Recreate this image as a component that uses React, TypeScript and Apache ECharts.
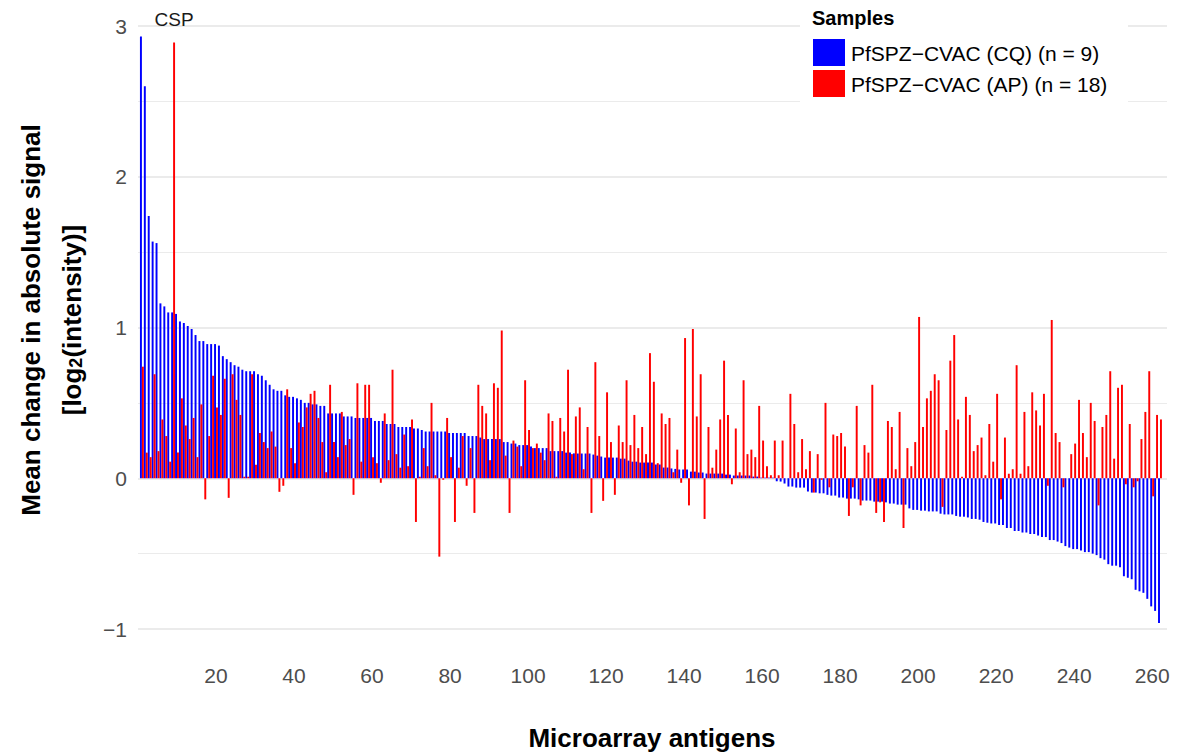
import React, { useEffect, useRef } from "react";
import * as echarts from "echarts";

// Mean change in absolute signal per antigen, log2(intensity), ordered by the CQ group
const cqMeans = [
  2.93, 2.60, 1.74, 1.57, 1.56, 1.16, 1.14, 1.10, 1.10, 1.09, 1.04, 1.03, 1.01, 0.99, 0.95, 0.91, 0.91, 0.89, 0.89, 0.89, 0.88, 0.81,
  0.79, 0.77, 0.75, 0.74, 0.72, 0.71, 0.71, 0.71, 0.69, 0.68, 0.65, 0.62, 0.59, 0.58, 0.58, 0.55, 0.54, 0.54, 0.53, 0.52, 0.50, 0.50,
  0.49, 0.49, 0.48, 0.48, 0.43, 0.43, 0.43, 0.43, 0.41, 0.41, 0.41, 0.40, 0.40, 0.40, 0.40, 0.40, 0.38, 0.38, 0.38, 0.36, 0.36, 0.36,
  0.34, 0.34, 0.34, 0.34, 0.33, 0.33, 0.32, 0.31, 0.31, 0.31, 0.31, 0.31, 0.31, 0.30, 0.30, 0.30, 0.30, 0.30, 0.28, 0.28, 0.28, 0.27,
  0.26, 0.26, 0.26, 0.26, 0.26, 0.24, 0.24, 0.23, 0.23, 0.22, 0.22, 0.22, 0.21, 0.20, 0.20, 0.20, 0.20, 0.18, 0.18, 0.18, 0.18, 0.17,
  0.17, 0.165, 0.164, 0.164, 0.164, 0.164, 0.157, 0.15, 0.144, 0.137, 0.137, 0.137, 0.137, 0.13, 0.13, 0.117, 0.11, 0.11, 0.104, 0.104, 0.104, 0.104,
  0.091, 0.091, 0.071, 0.071, 0.065, 0.062, 0.058, 0.058, 0.058, 0.044, 0.044, 0.038, 0.038, 0.031, 0.031, 0.031, 0.031, 0.031, 0.024, 0.024, 0.018, 0.018,
  0.018, 0.018, 0.018, 0.011, 0.011, 0.004, 0.004, 0.004, 0.004, -0.02, -0.022, -0.035, -0.055, -0.055, -0.062, -0.062, -0.062, -0.088, -0.095, -0.095, -0.10, -0.10,
  -0.11, -0.115, -0.115, -0.128, -0.128, -0.135, -0.135, -0.135, -0.14, -0.148, -0.148, -0.148, -0.155, -0.155, -0.155, -0.16, -0.168, -0.168, -0.175, -0.175, -0.175, -0.20,
  -0.21, -0.21, -0.215, -0.215, -0.22, -0.22, -0.22, -0.235, -0.24, -0.24, -0.24, -0.25, -0.255, -0.255, -0.26, -0.27, -0.27, -0.275, -0.29, -0.295, -0.30, -0.30,
  -0.31, -0.31, -0.33, -0.33, -0.35, -0.35, -0.36, -0.36, -0.37, -0.37, -0.38, -0.39, -0.39, -0.41, -0.41, -0.42, -0.43, -0.45, -0.46, -0.47, -0.47, -0.48,
  -0.49, -0.49, -0.50, -0.51, -0.53, -0.54, -0.57, -0.58, -0.58, -0.59, -0.65, -0.66, -0.67, -0.74, -0.75, -0.76, -0.80, -0.85, -0.88, -0.96,
];

const apMeans = [
  0.74, 0.17, 0.14, 0.69, 0.18, 0.39, 0.28, 0.11, 2.89, 0.17, 0.53, 0.35, 0.26, 0.40, 0.14, 0.49, -0.14, 0.28, 0.68, 0.47, 0.42, 0.66,
  -0.13, 0.69, 0.52, 0.42, 0.01, 0.01, 0.69, 0.09, 0.30, 0.24, 0.20, 0.31, 0.21, -0.09, -0.05, 0.59, 0.20, 0.10, 0.37, 0.34, 0.47, 0.56,
  0.58, 0.40, 0.24, 0.04, 0.62, 0.24, 0.14, 0.44, 0.22, 0.26, -0.11, 0.63, 0.11, 0.62, 0.62, 0.14, 0.10, -0.03, 0.43, 0.12, 0.72, 0.16,
  0.07, 0.29, 0.08, 0.39, -0.29, 0.01, 0.20, 0.08, 0.50, 0.02, -0.52, -0.01, 0.40, 0.14, -0.29, 0.07, 0.28, -0.05, 0.20, -0.23, 0.62, 0.48,
  0.43, 0.12, 0.63, 0.60, 0.98, 0.15, -0.23, 0.25, 0.21, 0.08, 0.65, 0.32, 0.20, 0.23, 0.17, 0.12, 0.43, 0.38, 0.01, 0.40, 0.31, 0.72,
  0.16, 0.41, 0.47, 0.06, 0.34, -0.23, 0.77, 0.28, -0.15, 0.57, 0.24, -0.11, 0.35, 0.24, 0.65, 0.22, 0.42, 0.20, 0.34, 0.16, 0.83, 0.64,
  0.10, 0.43, 0.36, 0.40, 0.04, 0.19, -0.03, 0.93, -0.18, 0.99, 0.41, 0.69, -0.27, 0.34, 0.07, 0.19, 0.39, 0.78, 0.42, -0.04, 0.33, 0.04,
  0.65, 0.16, 0.19, 0.14, 0.48, 0.25, 0.08, 0.02, 0.25, 0.02, 0.25, 0.00, 0.56, 0.36, 0.04, 0.26, 0.06, 0.18, -0.095, 0.16, -0.01, 0.50,
  -0.06, 0.29, 0.28, 0.30, 0.21, -0.25, -0.06, 0.48, -0.18, 0.22, 0.17, 0.62, -0.23, -0.16, -0.29, 0.38, 0.34, 0.06, 0.44, -0.33, 0.20, 0.08,
  0.24, 1.07, 0.34, 0.53, 0.58, 0.69, 0.65, -0.19, 0.32, 0.78, 0.95, 0.39, 0.01, 0.54, 0.42, 0.18, 0.22, 0.27, 0.02, 0.36, 0.11, 0.56,
  -0.14, 0.27, 0.03, 0.06, 0.75, 0.03, 0.44, 0.08, 0.57, 0.45, 0.35, 0.56, -0.05, 1.05, 0.30, 0.24, -0.06, 0.00, 0.16, 0.23, 0.52, 0.30,
  0.14, 0.50, 0.38, -0.18, 0.34, 0.42, 0.71, 0.13, 0.60, 0.62, -0.04, 0.36, -0.06, -0.02, 0.26, 0.44, 0.71, -0.12, 0.42, 0.39,
];

const seriesNames = ["PfSPZ\u2212CVAC (CQ) (n = 9)", "PfSPZ\u2212CVAC (AP) (n = 18)"];
const seriesColors = ["#0000FF", "#FF0000"];
const legendTitle = "Samples";
const xTitle = "Microarray antigens";
const yTitleLine1 = "Mean change in absolute signal";
const highlighted = { antigen: 9, label: "CSP" };

const FONT = "'Liberation Sans', Arial, Helvetica, sans-serif";

const fmtTick = (v: number) => (v < 0 ? "\u2212" + Math.abs(v) : String(v));

export default function App() {
  const ref = useRef<HTMLDivElement>(null);

  useEffect(() => {
    if (!ref.current) return;
    const chart = echarts.init(ref.current, undefined, { renderer: "svg" });

    const cqData = cqMeans.map((v, i) => [i + 1, v]);
    const apData = apMeans.map((v, i) => {
      if (i + 1 === highlighted.antigen) {
        return {
          value: [i + 1, v],
          label: {
            show: true,
            position: "top",
            distance: 14,
            formatter: highlighted.label,
            color: "#1a1a1a",
            fontSize: 19,
            fontFamily: FONT,
          },
        };
      }
      return [i + 1, v];
    });

    const legendX = 812;
    const legendY = 6;

    chart.setOption({
      animation: false,
      grid: { left: 138, right: 12, top: 26, bottom: 125, containLabel: false },
      xAxis: {
        type: "value",
        min: 0,
        max: 263.8,
        interval: 20,
        axisLine: { show: false },
        axisTick: { show: false },
        splitLine: { show: false },
        axisLabel: {
          color: "#4D4D4D",
          fontSize: 21,
          fontFamily: FONT,
          margin: 36,
          showMinLabel: false,
          showMaxLabel: false,
          formatter: (v: number) => (v > 0 && v % 20 === 0 ? String(v) : ""),
        },
      },
      yAxis: {
        type: "value",
        min: -1,
        max: 3,
        interval: 1,
        axisLine: { show: false },
        axisTick: { show: false },
        axisLabel: {
          color: "#4D4D4D",
          fontSize: 21,
          fontFamily: FONT,
          margin: 11,
          formatter: fmtTick,
        },
        splitLine: { show: true, lineStyle: { color: "#EBEBEB", width: 2 } },
        minorTick: { show: false, splitNumber: 2 },
        minorSplitLine: { show: true, lineStyle: { color: "#EBEBEB", width: 1.1 } },
      },
      series: [
        {
          type: "bar",
          name: seriesNames[0],
          data: cqData,
          barWidth: 1.95,
          barGap: "0%",
          itemStyle: { color: seriesColors[0] },
        },
        {
          type: "bar",
          name: seriesNames[1],
          data: apData,
          barWidth: 1.95,
          barGap: "0%",
          itemStyle: { color: seriesColors[1] },
        },
      ],
      graphic: [
        // legend panel
        {
          type: "rect",
          shape: { x: 800, y: 0, width: 328, height: 104 },
          style: { fill: "#FFFFFF" },
          z: 50,
        },
        {
          type: "text",
          x: legendX,
          y: legendY + 12,
          style: {
            text: legendTitle,
            font: `bold 20px ${FONT}`,
            fill: "#000000",
            textVerticalAlign: "middle",
          },
          z: 51,
        },
        ...seriesNames.flatMap((name, i) => [
          {
            type: "rect",
            shape: { x: 813, y: 39 + i * 31, width: 32, height: 27 },
            style: { fill: seriesColors[i] },
            z: 51,
          },
          {
            type: "text",
            x: 851,
            y: 53 + i * 31,
            style: {
              text: name,
              font: `21px ${FONT}`,
              fill: "#000000",
              textVerticalAlign: "middle",
            },
            z: 51,
          },
        ]),
        // axis titles
        {
          type: "text",
          x: 652,
          y: 738,
          style: {
            text: xTitle,
            font: `bold 26px ${FONT}`,
            fill: "#000000",
            textAlign: "center",
            textVerticalAlign: "middle",
          },
        },
        {
          type: "text",
          x: 31,
          y: 320,
          rotation: Math.PI / 2,
          style: {
            text: yTitleLine1,
            font: `bold 26px ${FONT}`,
            fill: "#000000",
            textAlign: "center",
            textVerticalAlign: "middle",
          },
        },
        {
          type: "text",
          x: 72,
          y: 320,
          rotation: Math.PI / 2,
          style: {
            text: "[log{sub|2}(intensity)]",
            font: `bold 26px ${FONT}`,
            fill: "#000000",
            textAlign: "center",
            textVerticalAlign: "middle",
            rich: {
              sub: {
                fontSize: 18,
                fontWeight: "bold",
                fontFamily: FONT,
                fill: "#000000",
                verticalAlign: "bottom",
                padding: [0, 0, 0, 0],
              },
            },
          },
        },
      ],
    });

    return () => chart.dispose();
  }, []);

  return (
    <div
      ref={ref}
      style={{ position: "absolute", left: 0, top: 0, width: 1179, height: 754, background: "#FFFFFF" }}
    />
  );
}
